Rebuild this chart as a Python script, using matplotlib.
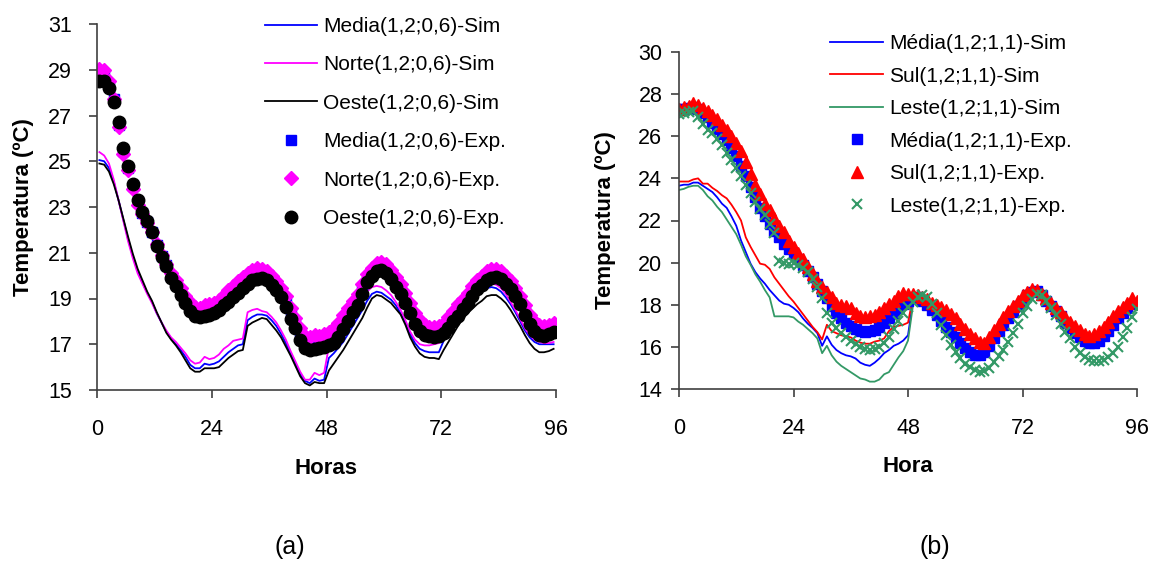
import numpy as np
import matplotlib
matplotlib.use("Agg")
import matplotlib.pyplot as plt

plt.rcParams['font.family'] = ['Liberation Sans', 'DejaVu Sans']

# ---------------- (a) data, hourly ----------------
hours_a = np.arange(0.5, 96, 1.0)

media_exp_a = [28.9, 28.8, 28.3, 27.7, 26.6, 25.45, 24.7, 23.9, 23.2, 22.75, 22.35, 21.9,
               21.35, 20.85, 20.45, 20.0, 19.65, 19.3, 18.95, 18.65, 18.45, 18.4, 18.45, 18.5,
               18.55, 18.7, 18.9, 19.05, 19.25, 19.45, 19.65, 19.85, 20.0, 20.05, 20.05, 19.95,
               19.8, 19.55, 19.25, 18.85, 18.35, 17.9, 17.45, 17.05, 16.95, 17.0, 17.05, 17.1,
               17.15, 17.3, 17.55, 17.9, 18.25, 18.6, 18.9, 19.4, 19.85, 20.15, 20.35, 20.4,
               20.3, 20.05, 19.7, 19.4, 19.0, 18.55, 18.1, 17.8, 17.6, 17.5, 17.5, 17.55,
               17.7, 17.9, 18.2, 18.45, 18.75, 19.0, 19.3, 19.55, 19.75, 19.95, 20.05, 20.1,
               20.0, 19.8, 19.55, 19.25, 18.9, 18.45, 18.05, 17.75, 17.55, 17.5, 17.6, 17.7]

norte_exp_a = [29.05, 29.0, 28.5, 27.7, 26.5, 25.3, 24.6, 23.8, 23.1, 22.7, 22.3, 21.9,
               21.4, 20.9, 20.5, 20.1, 19.8, 19.45, 19.1, 18.85, 18.65, 18.6, 18.7, 18.75,
               18.8, 18.95, 19.15, 19.35, 19.55, 19.75, 19.95, 20.1, 20.25, 20.35, 20.3, 20.2,
               20.0, 19.75, 19.45, 19.1, 18.6, 18.15, 17.7, 17.35, 17.3, 17.4, 17.35, 17.45,
               17.55, 17.7, 17.95, 18.3, 18.6, 18.9, 19.2, 19.65, 20.05, 20.35, 20.55, 20.6,
               20.5, 20.25, 19.95, 19.65, 19.25, 18.8, 18.35, 18.05, 17.85, 17.75, 17.75, 17.8,
               17.95, 18.2, 18.45, 18.75, 19.0, 19.25, 19.55, 19.8, 20.0, 20.2, 20.3, 20.3,
               20.2, 20.0, 19.75, 19.45, 19.1, 18.7, 18.3, 18.0, 17.85, 17.8, 17.85, 17.95]

oeste_exp_a = [28.5, 28.5, 28.2, 27.6, 26.7, 25.6, 24.8, 24.0, 23.3, 22.8, 22.4, 21.9,
               21.3, 20.8, 20.4, 19.9, 19.55, 19.15, 18.8, 18.45, 18.25, 18.2, 18.25, 18.3,
               18.35, 18.5, 18.7, 18.85, 19.05, 19.25, 19.45, 19.65, 19.8, 19.85, 19.88, 19.8,
               19.6, 19.35, 19.05, 18.65, 18.1, 17.7, 17.2, 16.85, 16.75, 16.8, 16.85, 16.9,
               16.95, 17.05, 17.3, 17.65, 18.0, 18.4, 18.7, 19.2, 19.7, 20.0, 20.2, 20.25,
               20.1, 19.85, 19.5, 19.2, 18.8, 18.35, 17.9, 17.6, 17.4, 17.35, 17.33, 17.35,
               17.5, 17.7, 18.0, 18.25, 18.55, 18.8, 19.1, 19.4, 19.6, 19.8, 19.9, 19.95,
               19.85, 19.65, 19.4, 19.1, 18.75, 18.3, 17.9, 17.6, 17.4, 17.35, 17.45, 17.55]

media_sim_a = [25.05, 25.0, 24.7, 24.1, 23.3, 22.45, 21.6, 20.85, 20.2, 19.7, 19.25, 18.85,
               18.35, 17.95, 17.55, 17.25, 17.0, 16.75, 16.45, 16.1, 15.95, 15.95, 16.15, 16.1,
               16.15, 16.25, 16.45, 16.65, 16.8, 16.95, 17.0, 18.05, 18.2, 18.3, 18.3, 18.25,
               18.05, 17.8, 17.45, 17.05, 16.6, 16.15, 15.7, 15.4, 15.3, 15.5, 15.4, 15.45,
               16.4, 16.6, 16.85, 17.1, 17.45, 17.8, 18.15, 18.5, 18.9, 19.2, 19.3, 19.25,
               19.1, 18.95, 18.7, 18.35, 17.95, 17.45, 17.05, 16.8, 16.7, 16.65, 16.65, 16.65,
               17.15, 17.45, 17.8, 18.1, 18.4, 18.65, 18.9, 19.1, 19.3, 19.45, 19.5, 19.45,
               19.3, 19.05, 18.75, 18.4, 18.0, 17.6, 17.3, 17.1, 17.0, 17.0, 17.0, 17.0]

norte_sim_a = [25.4, 25.25, 24.9, 24.2, 23.3, 22.4, 21.5, 20.75, 20.1, 19.65, 19.2, 18.8,
               18.35, 17.95, 17.6, 17.3, 17.1, 16.85, 16.6, 16.3, 16.15, 16.2, 16.45, 16.35,
               16.4, 16.55, 16.8, 16.95, 17.15, 17.2, 17.25, 18.4, 18.5, 18.55, 18.45, 18.4,
               18.2, 17.95, 17.6, 17.2, 16.7, 16.25, 15.8, 15.45, 15.45, 15.75, 15.65, 15.75,
               16.9, 17.1, 17.35, 17.65, 17.95, 18.3, 18.65, 19.0, 19.3, 19.5, 19.55, 19.5,
               19.35, 19.15, 18.85, 18.5, 18.05, 17.55, 17.2, 17.0, 16.95, 16.95, 17.0, 17.05,
               17.45, 17.75, 18.05, 18.35, 18.65, 18.9, 19.1, 19.3, 19.5, 19.6, 19.65, 19.6,
               19.45, 19.2, 18.85, 18.5, 18.1, 17.7, 17.4, 17.2, 17.1, 17.05, 17.05, 17.1]

oeste_sim_a = [24.9, 24.85, 24.55, 24.0, 23.3, 22.5, 21.7, 20.95, 20.3, 19.8, 19.3, 18.9,
               18.4, 17.95, 17.5, 17.2, 16.95, 16.65, 16.3, 15.95, 15.8, 15.8, 15.95, 15.95,
               15.95, 16.0, 16.2, 16.4, 16.55, 16.7, 16.75, 17.8, 17.95, 18.05, 18.15, 18.1,
               17.85, 17.6, 17.3, 16.9, 16.5, 16.05, 15.6, 15.3, 15.2, 15.35, 15.3, 15.3,
               15.85, 16.15, 16.45, 16.75, 17.1, 17.45, 17.8, 18.15, 18.6, 19.0, 19.15, 19.1,
               18.95, 18.8, 18.55, 18.3, 17.85, 17.3, 16.9, 16.6, 16.45, 16.4, 16.4, 16.35,
               16.75, 17.1, 17.45, 17.8, 18.1, 18.35, 18.55, 18.75, 18.9, 19.1, 19.15, 19.15,
               19.0, 18.8, 18.5, 18.15, 17.8, 17.4, 17.05, 16.8, 16.65, 16.65, 16.7, 16.8]

# ---------------- (b) data, hourly ----------------
hours_b = np.arange(0, 97)
hours_b_sim = np.arange(0, 50)

media_sim_b = [23.65, 23.7, 23.7, 23.8, 23.8, 23.65, 23.5, 23.35, 23.1, 22.8,
               22.6, 22.2, 21.75, 21.05, 20.5, 19.95, 19.55, 19.25, 19.0, 18.7,
               18.45, 18.2, 18.05, 18.0, 17.85, 17.65, 17.35, 17.1, 16.9, 16.65,
               16.05, 16.5, 16.1, 15.85, 15.7, 15.6, 15.55, 15.45, 15.25, 15.15,
               15.1, 15.25, 15.45, 15.7, 15.85, 16.05, 16.15, 16.3, 16.55, 18.1]

sul_sim_b = [23.85, 23.85, 23.85, 23.95, 24.0, 23.75, 23.75, 23.55, 23.4, 23.2,
             23.05, 22.75, 22.4, 22.0, 21.2, 20.75, 20.35, 19.95, 19.9, 19.7,
             19.3, 19.0, 18.7, 18.4, 18.15, 17.85, 17.55, 17.25, 16.95, 16.7,
             16.35, 17.05, 16.75, 16.65, 16.55, 16.5, 16.45, 16.3, 16.2, 16.15,
             16.15, 16.25, 16.3, 16.4, 16.75, 16.95, 17.0, 17.05, 17.15, 18.3]

leste_sim_b = [23.45, 23.5, 23.6, 23.65, 23.65, 23.45, 23.15, 22.95, 22.65, 22.4,
               22.05, 21.7, 21.35, 20.85, 20.3, 19.9, 19.45, 19.1, 18.7, 18.35,
               17.45, 17.45, 17.45, 17.45, 17.4, 17.2, 17.05, 16.85, 16.65, 16.4,
               15.7, 16.05, 15.6, 15.3, 15.1, 14.95, 14.8, 14.65, 14.5, 14.45,
               14.35, 14.35, 14.45, 14.7, 14.8, 15.15, 15.5, 15.8, 16.3, 17.9]

media_exp_b = [27.3, 27.3, 27.35, 27.4, 27.3, 27.1, 26.9, 26.65, 26.35, 26.1, 25.8, 25.45,
               25.05, 24.6, 24.1, 23.6, 23.1, 22.6, 22.2, 21.85, 21.5, 21.2, 20.9, 20.65,
               20.4, 20.15, 19.9, 19.6, 19.3, 19.0, 18.65, 18.3, 17.95, 17.6, 17.35, 17.15,
               17.0, 16.85, 16.75, 16.7, 16.75, 16.8, 16.95, 17.15, 17.35, 17.6, 17.85, 18.05,
               18.2, 18.3, 18.35, 18.2, 18.0, 17.75, 17.5, 17.25, 16.95, 16.7, 16.45, 16.2,
               15.95, 15.75, 15.6, 15.6, 15.75, 16.05, 16.4, 16.75, 17.05, 17.35, 17.65, 17.95,
               18.2, 18.45, 18.6, 18.65, 18.45, 18.2, 17.95, 17.7, 17.45, 17.15, 16.9, 16.65,
               16.45, 16.3, 16.2, 16.2, 16.3, 16.5, 16.75, 17.05, 17.35, 17.6, 17.85, 18.05,
               18.1]

sul_exp_b = [27.3, 27.4, 27.45, 27.6, 27.5, 27.35, 27.2, 27.0, 26.8, 26.55, 26.3, 26.0,
             25.7, 25.3, 24.8, 24.2, 23.7, 23.25, 22.8, 22.5, 22.1, 21.75, 21.45, 21.05,
             20.75, 20.45, 20.15, 19.8, 19.45, 19.15, 18.85, 18.6, 18.35, 18.1, 18.0, 17.95,
             17.85, 17.6, 17.45, 17.4, 17.45, 17.5, 17.65, 17.85, 18.05, 18.2, 18.4, 18.55,
             18.5, 18.5, 18.45, 18.35, 18.25, 18.1, 18.0, 17.9, 17.75, 17.55, 17.35, 17.1,
             16.85, 16.6, 16.4, 16.25, 16.2, 16.45, 16.8, 17.1, 17.4, 17.7, 17.95, 18.2,
             18.45, 18.6, 18.75, 18.7, 18.5, 18.3, 18.1, 17.85, 17.65, 17.4, 17.2, 17.0,
             16.8, 16.6, 16.5, 16.6, 16.75, 16.95, 17.2, 17.45, 17.7, 17.9, 18.1, 18.3,
             18.2]

leste_exp_b = [27.05, 27.1, 27.15, 27.2, 26.9, 26.6, 26.3, 26.15, 25.85, 25.6, 25.2, 24.85,
               24.5, 24.1, 23.7, 23.3, 22.9, 22.55, 22.25, 21.85, 21.4, 20.1, 20.0, 19.95,
               20.0, 19.9, 19.75, 19.55, 19.2, 18.85, 18.3, 17.6, 17.15, 16.9, 16.65, 16.45,
               16.3, 16.15, 16.0, 15.9, 15.85, 15.9, 16.0, 16.2, 16.45, 16.85, 17.25, 17.6,
               17.9, 18.15, 18.35, 18.45, 18.35, 18.05, 17.6, 17.05, 16.55, 16.1, 15.75, 15.45,
               15.2, 15.05, 14.9, 14.8, 14.85, 15.0, 15.3, 15.55, 15.85, 16.25, 16.65, 17.1,
               17.6, 17.95, 18.25, 18.5, 18.45, 18.2, 17.85, 17.5, 17.1, 16.7, 16.4, 16.0,
               15.7, 15.5, 15.4, 15.35, 15.35, 15.4, 15.5, 15.7, 16.0, 16.45, 16.9, 17.4,
               17.8]

xticks = [0, 24, 48, 72, 96]
GREEN = '#339966'
AXC = '#404040'

W, H = 1158, 572
fig = plt.figure(figsize=(W / 100, H / 100), dpi=100)


def style_axes(ax, ylim, ystep, ypad):
    ax.set_xlim(0, 96)
    ax.set_ylim(*ylim)
    ax.set_xticks(xticks)
    ax.set_yticks(np.arange(ylim[0], ylim[1] + 0.1, ystep))
    for s in ['top', 'right']:
        ax.spines[s].set_visible(False)
    for s in ['left', 'bottom']:
        ax.spines[s].set_color(AXC)
        ax.spines[s].set_linewidth(1.2)
    ax.tick_params(axis='both', direction='out', length=6, width=1.2, color=AXC,
                   labelsize=15.5)
    ax.tick_params(axis='y', pad=ypad)
    ax.tick_params(axis='x', pad=15)


# ---- panel (a)
ax1 = fig.add_axes([97 / W, 1 - 390 / H, 459 / W, 366 / H])
ax1.plot(hours_a, media_sim_a, color='#0000FF', lw=1.3, label='Media(1,2;0,6)-Sim')
ax1.plot(hours_a, norte_sim_a, color='#FF00FF', lw=1.3, label='Norte(1,2;0,6)-Sim')
ax1.plot(hours_a, oeste_sim_a, color='black', lw=1.3, label='Oeste(1,2;0,6)-Sim')
ax1.plot(hours_a, media_exp_a, ls='none', marker='s', ms=7, color='#0000FF',
         label='Media(1,2;0,6)-Exp.')
ax1.plot(hours_a, norte_exp_a, ls='none', marker='D', ms=7.5, color='#FF00FF',
         label='Norte(1,2;0,6)-Exp.')
ax1.plot(hours_a, oeste_exp_a, ls='none', marker='o', ms=9, color='black',
         label='Oeste(1,2;0,6)-Exp.')
style_axes(ax1, (15, 31), 2, 12)
ax1.legend(loc='upper left', bbox_to_anchor=(265 / W, 1 - 17 / H),
           bbox_transform=fig.transFigure, frameon=False, fontsize=15,
           handlelength=2.5, handletextpad=0.3, labelspacing=0.93,
           borderpad=0, borderaxespad=0)

# ---- panel (b)
ax2 = fig.add_axes([679 / W, 1 - 389 / H, 458 / W, 337 / H])
ax2.plot(hours_b_sim, media_sim_b, color='#0000FF', lw=1.3, label='Média(1,2;1,1)-Sim')
ax2.plot(hours_b_sim, sul_sim_b, color='#FF0000', lw=1.3, label='Sul(1,2;1,1)-Sim')
ax2.plot(hours_b_sim, leste_sim_b, color=GREEN, lw=1.3, label='Leste(1,2;1,1)-Sim')
ax2.plot(hours_b, media_exp_b, ls='none', marker='s', ms=7.5, color='#0000FF',
         label='Média(1,2;1,1)-Exp.')
ax2.plot(hours_b, sul_exp_b, ls='none', marker='^', ms=9, color='#FF0000',
         label='Sul(1,2;1,1)-Exp.')
ax2.plot(hours_b, leste_exp_b, ls='none', marker='x', ms=7.5, mew=1.5, color=GREEN,
         label='Leste(1,2;1,1)-Exp.')
style_axes(ax2, (14, 30), 2, 6)
ax2.legend(loc='upper left', bbox_to_anchor=(830 / W, 1 - 34 / H),
           bbox_transform=fig.transFigure, frameon=False, fontsize=15,
           handlelength=2.55, handletextpad=0.3, labelspacing=0.65,
           borderpad=0, borderaxespad=0)

# axis titles and panel captions
fig.text(24 / W, 1 - 207 / H, 'Temperatura (ºC)', rotation=90, fontsize=16,
         fontweight='bold', ha='center', va='center')
fig.text(605 / W, 1 - 220 / H, 'Temperatura (ºC)', rotation=90, fontsize=16,
         fontweight='bold', ha='center', va='center')
fig.text(326 / W, 1 - 468 / H, 'Horas', fontsize=16, fontweight='bold',
         ha='center', va='center')
fig.text(908 / W, 1 - 467 / H, 'Hora', fontsize=16, fontweight='bold',
         ha='center', va='center')
fig.text(290 / W, 1 - 547 / H, '(a)', fontsize=18, ha='center', va='center')
fig.text(935 / W, 1 - 547 / H, '(b)', fontsize=18, ha='center', va='center')

fig.savefig('out.png', dpi=100)
